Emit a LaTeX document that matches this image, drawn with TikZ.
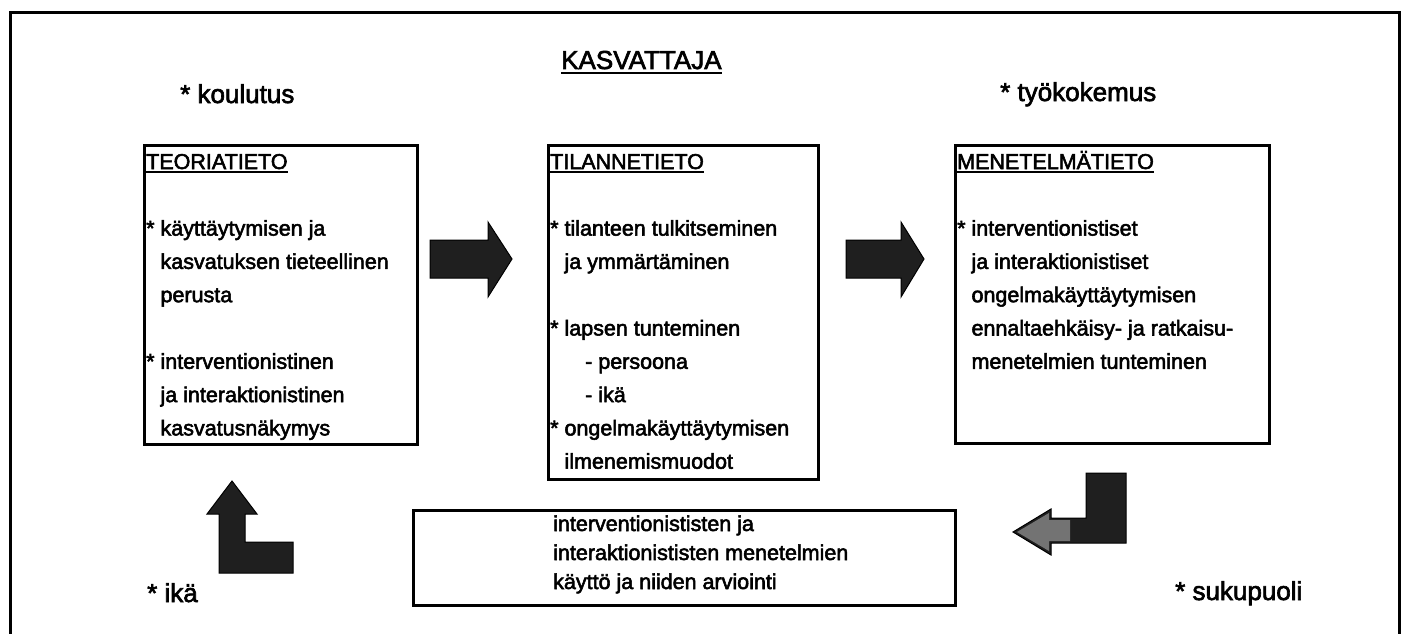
\documentclass[tikz,border=0pt]{standalone}
\usepackage{fontspec}
\setmainfont{Liberation Sans}[FakeBold=2.5]
\newcommand\myul[2][-3.5pt]{\leavevmode\setbox0\hbox{#2}\rlap{\rule[#1]{\wd0}{1.8pt}}\box0}
\tikzset{
  frame/.style={line width=3pt},
  kbox/.style={draw, line width=2.6pt, rectangle, inner sep=0pt, anchor=north west},
  btext/.style={anchor=base west, inner sep=0pt, font=\fontsize{21.5}{33.3}\selectfont},
  ltext/.style={anchor=base west, inner sep=0pt, font=\fontsize{26}{30}\selectfont},
  blockarrow/.style={fill=black!88, draw=black, line width=1pt, line join=miter},
}
\begin{document}
\begin{tikzpicture}[x=1pt,y=-1pt]
\useasboundingbox (0,0) rectangle (1411,634);
% outer frame (bottom edge lies outside the picture)
\draw[frame] (10,660) -- (10,13) -- (1399,13) -- (1399,660);

% headings
\node[ltext] (kasvattaja) at (561,69) {\myul[-4.5pt]{KASVATTAJA}};
\node[ltext] (koulutus) at (180,103) {* koulutus};
\node[ltext] (tyokokemus) at (1000,101) {* työkokemus};
\node[ltext] (ika) at (147,602) {* ikä};
\node[ltext] (sukupuoli) at (1175,600) {* sukupuoli};

% boxes
\node[kbox, minimum width=273pt, minimum height=299pt] (teoria) at (143,144) {};
\node[kbox, minimum width=270pt, minimum height=334pt] (tilanne) at (547,144) {};
\node[kbox, minimum width=314pt, minimum height=298pt] (menetelma) at (954,144) {};
\node[kbox, minimum width=542pt, minimum height=95pt] (kaytto) at (412,509) {};

% box texts
\node[btext] (teoriatxt) at (146,169) {\parbox[t]{265pt}{%
\myul{TEORIATIETO}\\[33.3pt]
{*} käyttäytymisen ja\\
\phantom{*} kasvatuksen tieteellinen\\
\phantom{*} perusta\\[33.3pt]
{*} interventionistinen\\
\phantom{*} ja interaktionistinen\\
\phantom{*} kasvatusnäkymys}};

\node[btext] (tilannetxt) at (550,169) {\parbox[t]{265pt}{%
\myul{TILANNETIETO}\\[33.3pt]
{*} tilanteen tulkitseminen\\
\phantom{*} ja ymmärtäminen\\[33.3pt]
{*} lapsen tunteminen\\
\hspace*{35pt}- persoona\\
\hspace*{35pt}- ikä\\
{*} ongelmakäyttäytymisen\\
\phantom{*} ilmenemismuodot}};

\node[btext] (menetelmatxt) at (957,169) {\parbox[t]{305pt}{%
\myul{MENETELMÄTIETO}\\[33.3pt]
{*} interventionistiset\\
\phantom{*} ja interaktionistiset\\
\phantom{*} ongelmakäyttäytymisen\\
\phantom{*} ennaltaehkäisy- ja ratkaisu-\\
\phantom{*} menetelmien tunteminen}};

\node[btext, font=\fontsize{21.5}{29}\selectfont] (kayttotxt) at (553,531) {\parbox[t]{380pt}{%
interventionististen ja\\
interaktionististen menetelmien\\
käyttö ja niiden arviointi}};

% block arrows
\draw[blockarrow] (430,240) -- (488,240) -- (488,222) -- (512,259) -- (488,297) -- (488,278) -- (430,278) -- cycle;
\draw[blockarrow] (846,240) -- (901,240) -- (901,222) -- (924,259) -- (901,297) -- (901,278) -- (846,278) -- cycle;
\draw[blockarrow] (232,481) -- (257,514) -- (245,514) -- (245,542) -- (293,542) -- (293,573) -- (219,573) -- (219,514) -- (207,514) -- cycle;
\draw[blockarrow] (1013,532) -- (1051,509) -- (1051,518) -- (1086,518) -- (1086,473) -- (1126,473) -- (1126,543) -- (1051,543) -- (1051,555) -- cycle;
\fill[black!55] (1017,532) -- (1049,513) -- (1049,520) -- (1070,520) -- (1070,541) -- (1049,541) -- (1049,551) -- cycle;
\end{tikzpicture}
\end{document}
